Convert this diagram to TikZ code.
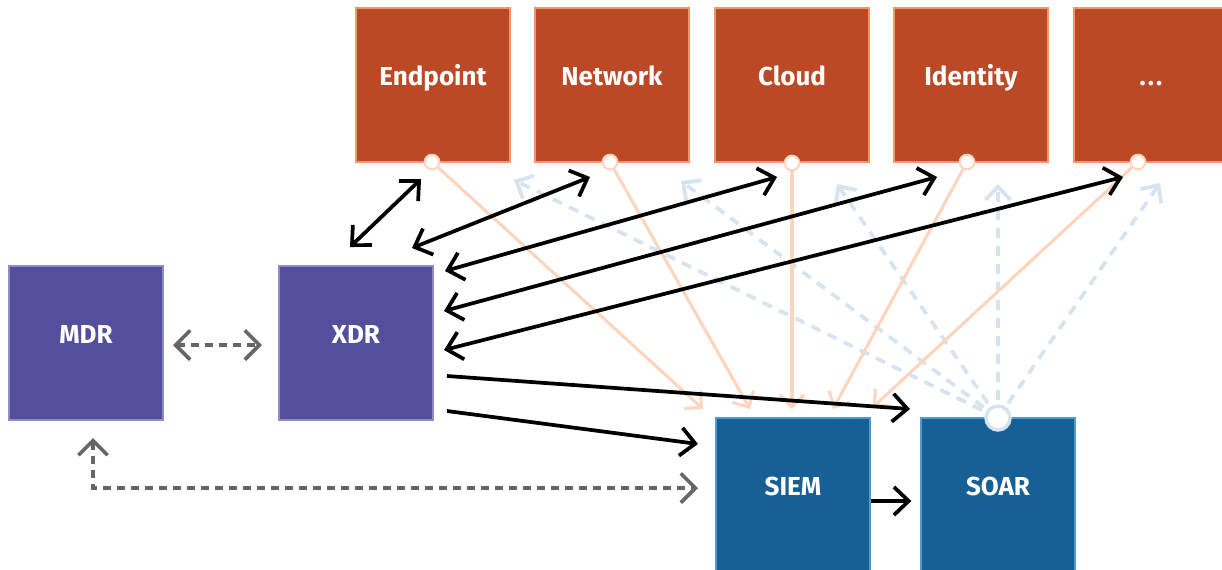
\documentclass[tikz,border=0pt]{standalone}
\usepackage{fontspec}
\setmainfont{Fira Sans}
\usetikzlibrary{arrows.meta}

\definecolor{srcfill}{RGB}{188,73,38}
\definecolor{srcline}{RGB}{243,150,106}
\definecolor{xdrfill}{RGB}{83,79,156}
\definecolor{xdrline}{RGB}{143,139,200}
\definecolor{secfill}{RGB}{22,96,149}
\definecolor{secline}{RGB}{80,155,205}
\definecolor{feedline}{RGB}{253,213,190}
\definecolor{playline}{RGB}{214,228,241}
\definecolor{mgrline}{RGB}{102,102,102}

\tikzset{
  box/.style={draw, line width=1.5pt, minimum width=115.5pt, minimum height=115.5pt,
    inner sep=0pt, text=white, font=\fontsize{19.5}{22}\selectfont\bfseries,
    text height=13pt, text depth=12.5pt},
  srcbox/.style={box, fill=srcfill, draw=srcline},
  xdrbox/.style={box, fill=xdrfill, draw=xdrline},
  secbox/.style={box, fill=secfill, draw=secline},
  port/.style={circle, fill=white, draw=feedline, line width=1.5pt, minimum size=11pt, inner sep=0pt},
  hub/.style={circle, fill=white, draw=playline, line width=2.6pt, minimum size=18pt, inner sep=0pt},
  barb/.style={>={Straight Barb[length=11pt,width=21pt]}},
  duplex/.style={barb, draw=black, line width=2.8pt, <->},
  push/.style={barb, draw=black, line width=2.8pt, ->},
  feed/.style={draw=feedline, line width=2.3pt, ->, >={Straight Barb[length=9pt,width=18pt]}},
  play/.style={draw=playline, line width=2.8pt, dash pattern=on 7.5pt off 6pt, ->,
    >={Straight Barb[length=10pt,width=19pt]}},
  manage/.style={draw=mgrline, line width=2.7pt, dash pattern=on 6pt off 4.5pt, <->,
    >={Straight Barb[length=11pt,width=22pt]}}
}

\begin{document}
\begin{tikzpicture}[x=0.75pt,y=0.75pt,yscale=-1,xscale=1]
\clip (0,0) rectangle (1222,569);
\fill[white] (0,0) rectangle (1222,569);

%Telemetry sources
\node[srcbox] (endpoint) at (433,85) {Endpoint};
\node[srcbox] (network) at (612,85) {Network};
\node[srcbox] (cloud) at (792,85) {Cloud};
\node[srcbox] (identity) at (971,85) {Identity};
\node[srcbox] (more) at (1151,85) {.\kern1.5pt.\kern1.5pt.};

%Detection and response
\node[xdrbox] (mdr) at (86,343) {MDR};
\node[xdrbox] (xdr) at (356,343) {XDR};
\node[secbox] (siem) at (793,495) {SIEM};
\node[secbox] (soar) at (998,495) {SOAR};

%free ends next to the boxes
\coordinate (siem-ep) at (703,409);
\coordinate (siem-nw) at (750,409);
\coordinate (siem-cl) at (792,409);
\coordinate (siem-id) at (833,409);
\coordinate (siem-mr) at (873,407);
\coordinate (soar-ep) at (514,180);
\coordinate (soar-nw) at (681,181);
\coordinate (soar-cl) at (837,184);
\coordinate (soar-id) at (998,184);
\coordinate (soar-mr) at (1160,183);

%Playbook lines (SOAR)
\draw[play] (998,418) -- (soar-ep);
\draw[play] (998,418) -- (soar-nw);
\draw[play] (998,418) -- (soar-cl);
\draw[play] (998,418) -- (soar-id);
\draw[play] (998,418) -- (soar-mr);
\node[hub] (soar-hub) at (998,418) {};

%Log feeds into SIEM
\node[port] (ep-port) at (432,162) {};
\node[port] (nw-port) at (610,162) {};
\node[port] (cl-port) at (792,163) {};
\node[port] (id-port) at (967,162) {};
\node[port] (mr-port) at (1138,162) {};
\draw[feed] (ep-port) -- (siem-ep);
\draw[feed] (nw-port) -- (siem-nw);
\draw[feed] (cl-port) -- (siem-cl);
\draw[feed] (id-port) -- (siem-id);
\draw[feed] (mr-port) -- (siem-mr);

%XDR integrations
\coordinate (xdr-ep) at (350,247);
\coordinate (xdr-nw) at (412,248);
\coordinate (xdr-cl) at (445,271);
\coordinate (xdr-id) at (444,311);
\coordinate (xdr-mr) at (444,350);
\draw[duplex] (xdr-ep) -- (421,179);
\draw[duplex] (xdr-nw) -- (590,177);
\draw[duplex] (xdr-cl) -- (777,177);
\draw[duplex] (xdr-id) -- (937,177);
\draw[duplex] (xdr-mr) -- (1123,177);
\draw[push] (447,376) -- (910,409);
\draw[push] (447,411) -- (698,444);
\draw[push] ([yshift=4.5pt]siem.east) -- ([yshift=4.5pt,xshift=-6.5pt]soar.west);

%Managed service links
\draw[manage] (173,345) -- (262,345);
\draw[manage] (93,438) |- (698,488);

\end{tikzpicture}
\end{document}
